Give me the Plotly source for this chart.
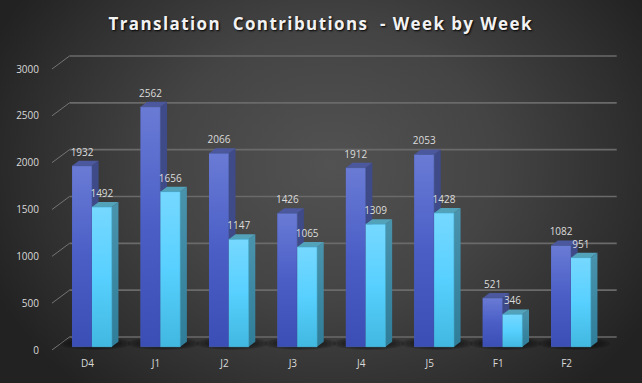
import base64
import plotly.graph_objects as go

TITLE = "Translation  Contributions  - Week by Week"
categories = ["D4", "J1", "J2", "J3", "J4", "J5", "F1", "F2"]
series_a = [1932, 2562, 2066, 1426, 1912, 2053, 521, 1082]
series_b = [1492, 1656, 1147, 1065, 1309, 1428, 346, 951]
y_ticks = [0, 500, 1000, 1500, 2000, 2500, 3000]

W, H = 642, 383
PX_X = 68.43            # pixels per category
PX_Y = 281 / 3000       # pixels per value unit
X0_PX = 87.6            # pixel of category 0
Y0_PX = 350             # pixel of value 0
L, R, T = 52, 632, 40   # plot area in pixels

DX = 17.5 / PX_X        # chart depth in axis units
DY = 13 / PX_Y
BAR_W = 19.8 / PX_X
FRONT = 0.25            # depth of front of bars
BACK = 0.63             # depth of back of bars
WALL_END = (616.7 - X0_PX) / PX_X
WALL_START = (52 - X0_PX) / PX_X
LIFT = 80

xr = [(L - X0_PX) / PX_X, (R - X0_PX) / PX_X]
yr = [0, (Y0_PX - T) / PX_Y]

svg = f"""<svg xmlns='http://www.w3.org/2000/svg' width='{W}' height='{H}'>
<defs><radialGradient id='g' gradientUnits='userSpaceOnUse' cx='0' cy='0' r='1'
 gradientTransform='translate(330 165) scale(370 300)'>
<stop offset='0' stop-color='#525252'/><stop offset='0.45' stop-color='#444444'/>
<stop offset='0.8' stop-color='#2f2f2f'/><stop offset='1' stop-color='#222222'/>
</radialGradient></defs><rect width='{W}' height='{H}' fill='url(#g)'/></svg>"""
bg_uri = "data:image/svg+xml;base64," + base64.b64encode(svg.encode()).decode()

shapes = []
GRID = "#6a6a6a"
for v in y_ticks:
    shapes.append(dict(type="line", xref="x", yref="y", layer="below",
                       x0=WALL_START, y0=v, x1=WALL_START + DX, y1=v + DY,
                       line=dict(color="#757575", width=1)))
    shapes.append(dict(type="line", xref="x", yref="y", layer="below",
                       x0=WALL_START + DX, y0=v + DY, x1=WALL_END, y1=v + DY,
                       line=dict(color=GRID, width=1.6)))

# soft floor shadow under each group
for i in range(len(categories)):
    cx = i + FRONT * DX + 3 / PX_X
    cy = 70
    for k in range(7):
        f = 1 - k * 0.12
        shapes.append(dict(type="circle", xref="x", yref="y", layer="below",
                           x0=cx - f * 36 / PX_X, x1=cx + f * 36 / PX_X,
                           y0=cy - f * 70, y1=cy + f * 70,
                           fillcolor="rgba(0,0,0,0.14)", line=dict(width=0)))

fig = go.Figure()

base = FRONT * DY
left = [i + FRONT * DX - BAR_W for i in range(len(categories))]


def poly(xs, ys, color=None, grad=None, line=None):
    kw = dict(x=xs, y=ys, mode="lines", fill="toself", hoverinfo="skip", showlegend=False,
              line=dict(width=0.6 if line else 0, color=line or "rgba(0,0,0,0)"))
    if grad:
        kw["fillgradient"] = dict(type="vertical", colorscale=[
            [k / (len(grad) - 1), c] for k, c in enumerate(grad)])
        kw["fillcolor"] = grad[0]
    else:
        kw["fillcolor"] = color
    fig.add_trace(go.Scatter(**kw))


# real bars carrying the front faces
for vals, off, color, name in [(series_a, 0, "#5062c8", "A"), (series_b, BAR_W, "#55cdf8", "B")]:
    fig.add_trace(go.Bar(x=list(range(len(categories))), y=vals, base=[base] * len(vals),
                         offset=[FRONT * DX - BAR_W + off] * len(vals), width=[BAR_W] * len(vals),
                         marker=dict(color=color, line=dict(width=0)), name=name,
                         showlegend=False, hoverinfo="skip"))

d = (BACK - FRONT)
for i in range(len(categories)):
    # blue bar: side, top, front
    x0, x1 = left[i], left[i] + BAR_W
    v = series_a[i]
    poly([x1, x1 + d * DX, x1 + d * DX, x1], [base, base + d * DY, base + v + d * DY, base + v],
         color="#3f4a88")
    poly([x0, x0 + d * DX, x1 + d * DX, x1], [base + v, base + v + d * DY, base + v + d * DY, base + v],
         color="#4c589e")
    poly([x0, x1, x1, x0], [base, base, base + v, base + v],
         grad=("#3a4eb6", "#4a5ec6", "#6a7bd5"), line="#45558f")
for i in range(len(categories)):
    x0, x1 = left[i] + BAR_W, left[i] + 2 * BAR_W
    v = series_b[i]
    poly([x1, x1 + d * DX, x1 + d * DX, x1], [base, base + d * DY, base + v + d * DY, base + v],
         grad=("#2f7d99", "#4a93ad"))
    poly([x0, x0 + d * DX, x1 + d * DX, x1], [base + v, base + v + d * DY, base + v + d * DY, base + v],
         color="#52a2ba")
    poly([x0, x1, x1, x0], [base, base, base + v, base + v],
         grad=("#40b8e0", "#58d0ff", "#76d8ff"), line="#45a9c9")

# value labels
for vals, off in [(series_a, 0.5 * BAR_W), (series_b, 1.5 * BAR_W)]:
    fig.add_trace(go.Scatter(
        x=[left[i] + off for i in range(len(vals))],
        y=[base + v + LIFT for v in vals],
        mode="text", text=[str(v) for v in vals], textposition="top center",
        textfont=dict(family="Open Sans", size=10, color="#dcdcdc"),
        hoverinfo="skip", showlegend=False, cliponaxis=False))

fig.update_layout(
    width=W, height=H, autosize=False,
    margin=dict(l=0, r=0, t=0, b=0),
    paper_bgcolor="#2a2a2a", plot_bgcolor="rgba(0,0,0,0)",
    barmode="overlay", showlegend=False,
    font=dict(family="Open Sans", size=10, color="#d9d9d9"),
    title=dict(text=TITLE, x=0.4995, xanchor="center", y=1 - 24 / H, yanchor="middle",
               font=dict(family="Open Sans", size=17, color="#f2f2f2", weight="bold",
                         shadow="1px 1px 2px #000")),
    images=[dict(source=bg_uri, xref="paper", yref="paper", x=0, y=1, sizex=1, sizey=1,
                 sizing="stretch", layer="below", xanchor="left", yanchor="top")],
    shapes=shapes,
    xaxis=dict(domain=[L / W, R / W], range=xr, tickmode="array", automargin=False,
               tickvals=list(range(len(categories))), ticktext=categories,
               showgrid=False, zeroline=False, showline=False, ticks="outside",
               ticklen=4, tickcolor="rgba(0,0,0,0)",
               tickfont=dict(family="Open Sans", size=10, color="#d9d9d9")),
    yaxis=dict(domain=[1 - Y0_PX / H, 1 - T / H], range=yr, tickmode="array", automargin=False,
               tickvals=y_ticks, ticktext=[str(t) for t in y_ticks],
               showgrid=False, zeroline=False, showline=False, ticks="outside",
               ticklen=10, tickcolor="rgba(0,0,0,0)",
               tickfont=dict(family="Open Sans", size=10, color="#d9d9d9")),
)

fig.write_html("out.html", config={"displayModeBar": False},
               post_script="document.body.style.margin='0';document.body.style.overflow='hidden';"
                           "document.querySelectorAll('.gtitle').forEach(e=>e.style.letterSpacing='1.4px');")
